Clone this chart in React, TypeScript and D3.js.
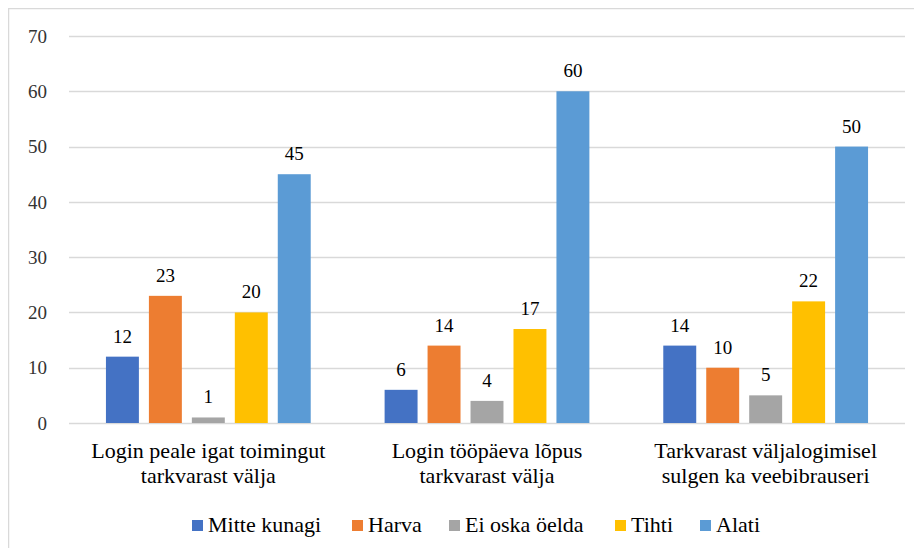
import React, { useEffect, useRef } from "react";
import * as d3 from "d3";

const categories = [
  ["Login peale igat toimingut", "tarkvarast välja"],
  ["Login tööpäeva lõpus", "tarkvarast välja"],
  ["Tarkvarast väljalogimisel", "sulgen ka veebibrauseri"],
];
const seriesNames = ["Mitte kunagi", "Harva", "Ei oska öelda", "Tihti", "Alati"];
const seriesColors = ["#4472C4", "#ED7D31", "#A5A5A5", "#FFC000", "#5B9BD5"];
const mitteKunagi = [12, 6, 14];
const harva = [23, 14, 10];
const eiOska = [1, 4, 5];
const tihti = [20, 17, 22];
const alati = [45, 60, 50];
const yTicks = [0, 10, 20, 30, 40, 50, 60, 70];

const App = () => {
  const ref = useRef<SVGSVGElement>(null);

  useEffect(() => {
    draw();
  });

  const draw = () => {
    const W = 914;
    const H = 540;
    const left = 61;
    const right = 897;
    const top = 28;
    const bottom = 415;
    const font = "Liberation Serif, DejaVu Serif, Times New Roman, serif";

    const svg = d3.select(ref.current);
    svg.selectAll("*").remove();

    svg
      .append("rect")
      .attr("x", 0.5)
      .attr("y", 0.5)
      .attr("width", W + 20)
      .attr("height", H + 40)
      .attr("fill", "white")
      .attr("stroke", "#D9D9D9")
      .attr("stroke-width", 1.5);

    const y = d3.scaleLinear().domain([0, 70]).range([bottom, top]);
    const x0 = d3
      .scaleBand<number>()
      .domain(d3.range(categories.length))
      .range([left, right]);
    const x1 = d3
      .scaleBand<number>()
      .domain(d3.range(seriesNames.length))
      .range([0, x0.bandwidth()])
      .paddingInner(0.233)
      .paddingOuter(0.86);

    // gridlines
    svg
      .append("g")
      .selectAll("line")
      .data(yTicks)
      .join("line")
      .attr("x1", left)
      .attr("x2", right)
      .attr("y1", (d) => Math.round(y(d)) + 0.5)
      .attr("y2", (d) => Math.round(y(d)) + 0.5)
      .attr("stroke", "#D9D9D9")
      .attr("stroke-width", 1.3);

    // y tick labels
    svg
      .append("g")
      .selectAll("text")
      .data(yTicks)
      .join("text")
      .attr("x", 39)
      .attr("y", (d) => y(d))
      .attr("dy", "0.35em")
      .attr("text-anchor", "end")
      .style("font-family", font)
      .style("font-size", "19px")
      .attr("fill", "#333")
      .text((d) => d);

    const series = [mitteKunagi, harva, eiOska, tihti, alati];
    series.forEach((vals, si) => {
      const g = svg.append("g");
      g.selectAll("rect")
        .data(vals)
        .join("rect")
        .attr("x", (d, i) => (x0(i) as number) + (x1(si) as number))
        .attr("y", (d) => y(d))
        .attr("width", x1.bandwidth())
        .attr("height", (d) => bottom - y(d))
        .attr("fill", seriesColors[si]);
      g.selectAll("text")
        .data(vals)
        .join("text")
        .attr("x", (d, i) => (x0(i) as number) + (x1(si) as number) + x1.bandwidth() / 2)
        .attr("y", (d) => y(d) - 14)
        .attr("text-anchor", "middle")
        .style("font-family", font)
        .style("font-size", "19px")
        .attr("fill", "#000")
        .text((d) => d);
    });

    // category labels
    const cat = svg.append("g");
    categories.forEach((lines, i) => {
      lines.forEach((line, li) => {
        cat
          .append("text")
          .attr("x", (x0(i) as number) + x0.bandwidth() / 2)
          .attr("y", 450 + li * 25)
          .attr("text-anchor", "middle")
          .style("font-family", font)
          .style("font-size", "22px")
          .attr("fill", "#000")
          .text(line);
      });
    });

    // legend
    const legendX = [184, 344, 441, 607, 692];
    const legend = svg.append("g");
    seriesNames.forEach((name, i) => {
      legend
        .append("rect")
        .attr("x", legendX[i])
        .attr("y", 512)
        .attr("width", 11)
        .attr("height", 11)
        .attr("fill", seriesColors[i]);
      legend
        .append("text")
        .attr("x", legendX[i] + 16)
        .attr("y", 524)
        .style("font-family", font)
        .style("font-size", "22px")
        .attr("fill", "#000")
        .text(name);
    });
  };

  return <svg ref={ref} width={914} height={540} style={{ display: "block" }} />;
};

export default App;
